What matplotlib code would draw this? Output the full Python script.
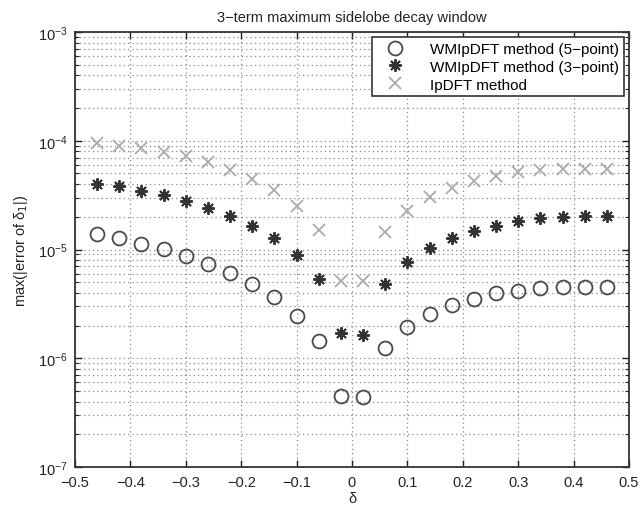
import matplotlib
matplotlib.use("Agg")
import matplotlib.pyplot as plt
import numpy as np
from matplotlib.ticker import LogLocator, FixedLocator, NullFormatter

plt.rcParams['font.family'] = ['Liberation Sans', 'DejaVu Sans']

delta = [-0.46, -0.42, -0.38, -0.34, -0.30, -0.26, -0.22, -0.18, -0.14, -0.10, -0.06, -0.02,
         0.02, 0.06, 0.10, 0.14, 0.18, 0.22, 0.26, 0.30, 0.34, 0.38, 0.42, 0.46]

wm5 = [1.39e-5, 1.27e-5, 1.12e-5, 1.01e-5, 8.65e-6, 7.36e-6, 6.08e-6, 4.82e-6, 3.65e-6, 2.46e-6,
       1.43e-6, 4.53e-7, 4.38e-7, 1.23e-6, 1.95e-6, 2.55e-6, 3.09e-6, 3.51e-6, 3.95e-6, 4.18e-6,
       4.39e-6, 4.49e-6, 4.49e-6, 4.49e-6]

wm3 = [4.0e-5, 3.81e-5, 3.47e-5, 3.17e-5, 2.81e-5, 2.41e-5, 2.05e-5, 1.66e-5, 1.28e-5, 8.95e-6,
       5.3e-6, 1.71e-6, 1.65e-6, 4.82e-6, 7.73e-6, 1.03e-5, 1.28e-5, 1.49e-5, 1.66e-5, 1.84e-5,
       1.94e-5, 1.98e-5, 2.05e-5, 2.05e-5]

ip = [9.46e-5, 9.01e-5, 8.52e-5, 7.83e-5, 7.19e-5, 6.33e-5, 5.42e-5, 4.45e-5, 3.55e-5, 2.53e-5,
      1.52e-5, 5.09e-6, 5.09e-6, 1.44e-5, 2.28e-5, 3.06e-5, 3.68e-5, 4.24e-5, 4.71e-5, 5.13e-5,
      5.38e-5, 5.5e-5, 5.55e-5, 5.55e-5]

xticks = [-0.5, -0.4, -0.3, -0.2, -0.1, 0, 0.1, 0.2, 0.3, 0.4, 0.5]
xticklabels = ['\u22120.5', '\u22120.4', '\u22120.3', '\u22120.2', '\u22120.1', '0',
               '0.1', '0.2', '0.3', '0.4', '0.5']

fig = plt.figure(figsize=(6.42, 5.06), dpi=100)
ax = fig.add_axes([75/642, 1-468/506, (629-75)/642, (468-33)/506])

ax.plot(delta, wm5, linestyle='none', marker='o', markersize=10, markerfacecolor='none',
        markeredgecolor='#4a4a4a', markeredgewidth=1.3, label='WMIpDFT method (5\u2212point)')
ax.plot(delta, wm3, linestyle='none', marker=(8, 2, 0), markersize=9,
        markeredgecolor='#333333', markeredgewidth=1.4, color='#333333',
        label='WMIpDFT method (3\u2212point)')
ax.plot(delta, ip, linestyle='none', marker='x', markersize=8,
        markeredgecolor='#ababab', markeredgewidth=1.3, color='#ababab',
        label='IpDFT method')

ax.set_yscale('log')
ax.set_ylim(1e-7, 1e-3)
ax.set_xlim(-0.5, 0.5)
ax.xaxis.set_major_locator(FixedLocator(xticks))
ax.set_xticklabels(xticklabels)
ax.yaxis.set_major_locator(LogLocator(base=10, numticks=10))
ax.yaxis.set_minor_locator(LogLocator(base=10, subs=np.arange(2, 10), numticks=50))
ax.yaxis.set_minor_formatter(NullFormatter())

ax.grid(True, which='major', axis='both', linestyle=(0, (1, 2.5)), color='#888888', linewidth=0.9)
ax.grid(True, which='minor', axis='y', linestyle=(0, (1, 2.5)), color='#888888', linewidth=0.9)
ax.set_axisbelow(True)

ax.tick_params(which='both', direction='in', top=True, right=True, labelsize=10.5, colors='#222222')
ax.tick_params(which='major', length=5, width=1.0)
ax.tick_params(which='minor', length=3, width=0.8)
ax.tick_params(axis='x', pad=6)
ax.tick_params(axis='y', pad=5)
for s in ax.spines.values():
    s.set_linewidth(1.3)
    s.set_color('#333333')

ax.set_title('3\u2212term maximum sidelobe decay window', fontsize=10.5, pad=8, color='#222222')
ax.set_xlabel('\u03b4', fontsize=10.5, labelpad=1, color='#222222')
ax.set_ylabel('max(|error of \u03b4$_1$|)', fontsize=10.5, labelpad=6, color='#222222')

leg = ax.legend(loc='upper right', fontsize=11, frameon=True, fancybox=False,
                edgecolor='#333333', framealpha=1, borderpad=0.3, labelspacing=0.25,
                handlelength=2.4, handletextpad=1.1, borderaxespad=0.35)
leg.get_frame().set_linewidth(1.2)

fig.savefig('out.png', dpi=100)
